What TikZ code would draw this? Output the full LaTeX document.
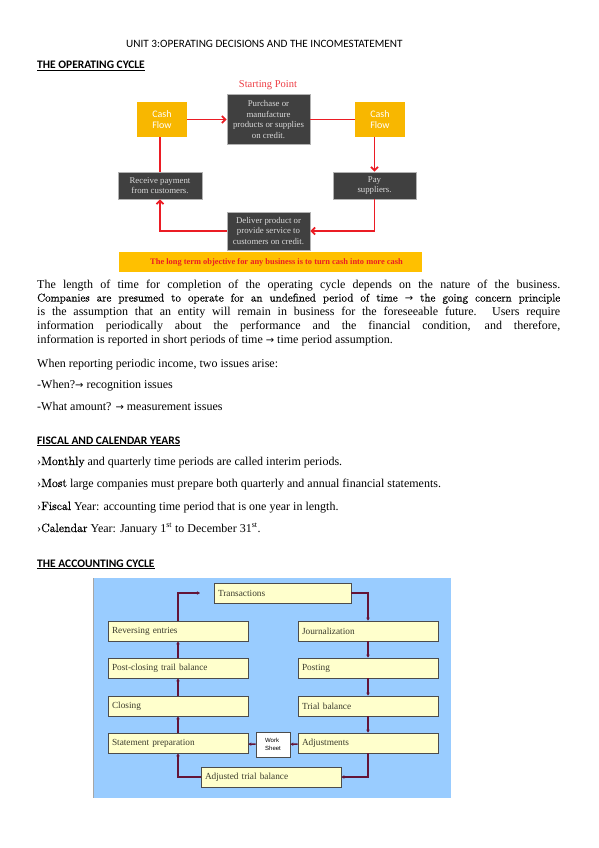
\documentclass[tikz,border=0pt]{standalone}
\usepackage{fontspec}
\setmainfont{Liberation Serif}
\newfontfamily\headfont{Carlito}
\newfontfamily\cmfont{Latin Modern Roman}[FakeBold=0.7]
\newfontfamily\sansfont{Liberation Sans}
\newfontfamily\arrowfont{DejaVu Sans}
\newcommand\goesto{{\arrowfont\fontsize{10}{12}\selectfont →}}
\usepackage{xcolor}
\definecolor{cashgold}{RGB}{248,183,0}
\definecolor{bannergold}{RGB}{255,192,0}
\definecolor{boxgray}{RGB}{64,64,64}
\definecolor{cyclered}{RGB}{235,28,36}
\definecolor{skyblue}{RGB}{153,204,255}
\definecolor{paleyellow}{RGB}{255,255,204}
\definecolor{plum}{RGB}{100,20,55}
\definecolor{boxtext}{RGB}{60,60,45}
\usetikzlibrary{arrows.meta}

\tikzset{
  textline/.style={anchor=base west, inner sep=0pt, font=\fontsize{12}{14}\selectfont},
  heading/.style={anchor=base west, inner sep=0pt, font=\headfont\bfseries\fontsize{11.5}{13}\selectfont},
  cashbox/.style={fill=cashgold, minimum width=50pt, minimum height=35pt, inner sep=0pt,
    text=white, align=center, font=\headfont\fontsize{10}{10.5}\selectfont},
  darkbox/.style={fill=boxgray, draw=gray!60, line width=0.6pt, minimum width=83pt, inner sep=0pt,
    text=white!85!black, align=center, font=\fontsize{8.8}{10.5}\selectfont},
  cyclebox/.style={fill=paleyellow, draw=black!70, line width=0.8pt, minimum width=140pt,
    minimum height=20pt, inner sep=0pt, text width=132pt, align=left,
    text=boxtext, font=\fontsize{9.3}{11}\selectfont},
  redflow/.style={cyclered, line width=1.8pt},
  cycleflow/.style={plum, line width=1.5pt},
}

\begin{document}
\begin{tikzpicture}[x=1pt, y=-1pt, >={Straight Barb[length=3.5pt,width=7pt]}]
    \useasboundingbox (0,0) rectangle (599,848);
    \fill[white] (0,0) rectangle (599,848);

    % Title and first heading
    \node[textline, font=\headfont\fontsize{11.2}{13}\selectfont] (title) at (126,48)
        {UNIT 3:OPERATING DECISIONS AND THE INCOMESTATEMENT};
    \node[heading] (opheading) at (37,69) {\underline{THE OPERATING CYCLE}};

    % Operating cycle
    \node[text=cyclered!85, font=\fontsize{10.5}{12}\selectfont] (start) at (268,85) {Starting Point};
    \node[cashbox] (cashleft) at (162,119.5) {Cash\\Flow};
    \node[darkbox, minimum height=50pt] (purchase) at (268.5,119.5)
        {Purchase or\\manufacture\\products or supplies\\on credit.};
    \node[cashbox] (cashright) at (380,119.5) {Cash\\Flow};
    \node[darkbox, minimum width=84pt, minimum height=27pt] (receive) at (160,185.5)
        {Receive payment\\from customers.};
    \node[darkbox, minimum height=27pt] (pay) at (374.5,185.5) {Pay\\suppliers.};
    \node[darkbox, minimum height=38pt] (deliver) at (268.5,231)
        {Deliver product or\\provide service to\\customers on credit.};
    \node[fill=bannergold, minimum width=303pt, minimum height=20pt, inner sep=0pt,
        text=cyclered, font=\bfseries\fontsize{8.4}{10}\selectfont] (banner) at (270.5,262)
        {\hspace{12pt}The long term objective for any business is to turn cash into more cash};

    \draw[redflow, ->] (cashleft) -- (purchase);
    \draw[redflow] (purchase) -- (cashright);
    \draw[redflow, ->] (pay.north |- cashright.south) -- (pay.north);
    \draw[redflow, ->] (pay.south) |- (deliver.east);
    \draw[redflow, ->] (deliver.west) -| (receive.south);
    \draw[redflow] (receive.north) -- (receive.north |- cashleft.south);

    % Text
    \node[textline] (par1) at (37,288)
        {\makebox[523pt][s]{The length of time for completion of the operating cycle depends on the nature of the business.}};
    \node[textline, font=\cmfont\fontsize{11.2}{14}\selectfont] (par2) at (37,301.5)
        {\makebox[523pt][s]{Companies are presumed to operate for an undefined period of time \goesto{} the going concern principle}};
    \node[textline] (par3) at (37,315)
        {\makebox[523pt][s]{is the assumption that an entity will remain in business for the foreseeable future. Users require}};
    \node[textline] (par4) at (37,329)
        {\makebox[523pt][s]{information periodically about the performance and the financial condition, and therefore,}};
    \node[textline] (par5) at (37,343)
        {information is reported in short periods of time \goesto{} time period assumption.};
    \node[textline] (issues) at (37,367) {When reporting periodic income, two issues arise:};
    \node[textline] (when) at (37,388) {-When?\goesto{} recognition issues};
    \node[textline] (amount) at (37,410) {-What amount? \goesto{} measurement issues};

    \node[heading] (fiscalheading) at (37,444) {\underline{FISCAL AND CALENDAR YEARS}};
    \node[textline] (monthly) at (37,465)
        {›{\cmfont Monthly} and quarterly time periods are called interim periods.};
    \node[textline] (most) at (37,487)
        {›{\cmfont Most} large companies must prepare both quarterly and annual financial statements.};
    \node[textline] (fiscal) at (37,510)
        {›{\cmfont Fiscal} Year: accounting time period that is one year in length.};
    \node[textline] (calendar) at (37,532)
        {›{\cmfont Calendar} Year: January 1\textsuperscript{st} to December 31\textsuperscript{st}.};

    \node[heading] (accheading) at (37,567) {\underline{THE ACCOUNTING CYCLE}};

    % Accounting cycle
    \fill[skyblue] (93,578) rectangle (451,798);
    \draw[gray!70, line width=0.8pt] (93,578) -- (93,798);
    \node[cyclebox, minimum width=137pt, text width=129pt] (transactions) at (282.5,593) {Transactions};
    \node[cyclebox] (reversing) at (178,631) {Reversing entries};
    \node[cyclebox] (postclosing) at (178,668) {Post-closing trail balance};
    \node[cyclebox] (closing) at (178,706) {Closing};
    \node[cyclebox] (statement) at (178,743) {Statement preparation};
    \node[cyclebox] (journal) at (368,631) {Journalization};
    \node[cyclebox] (posting) at (368,668) {Posting};
    \node[cyclebox] (trial) at (368,706) {Trial balance};
    \node[cyclebox] (adjust) at (368,743) {Adjustments};
    \node[cyclebox] (adjtrial) at (271,777) {Adjusted trial balance};
    \node[fill=white, draw=black!70, line width=0.8pt, minimum width=34pt, minimum height=25pt,
        inner sep=0pt, align=left, font=\sansfont\fontsize{6}{7.5}\selectfont] (worksheet) at (273,744.5)
        {Work\\Sheet};
    \coordinate (reentry) at (200,593);

    \begin{scope}[cycleflow, >={Stealth[length=3pt,width=3.5pt]}]
        \draw[->] (transactions.east) -| (journal.north);
        \draw[->] (journal) -- (posting);
        \draw[->] (posting) -- (trial);
        \draw[->] (trial) -- (adjust);
        \draw[->] (adjust.south) |- (adjtrial.east);
        \draw[->] (adjtrial.west) -| (statement.south);
        \draw[->] (statement) -- (closing);
        \draw[->] (closing) -- (postclosing);
        \draw[->] (postclosing) -- (reversing);
        \draw[->] (reversing.north) |- (reentry);
        \draw[->] (adjust) -- (worksheet);
        \draw[->] (worksheet) -- (statement);
    \end{scope}
\end{tikzpicture}
\end{document}
